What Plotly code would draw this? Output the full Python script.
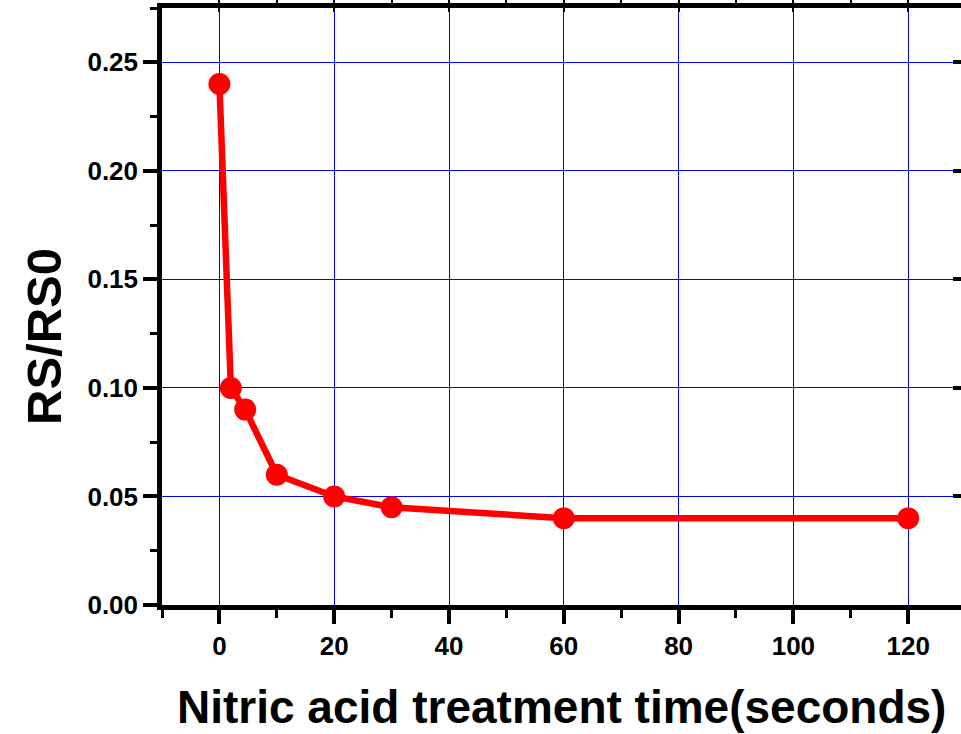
import plotly.graph_objects as go

time_s = [0, 2, 4.5, 10, 20, 30, 60, 120]
rs_ratio = [0.24, 0.10, 0.09, 0.06, 0.05, 0.045, 0.04, 0.04]

x_title = "Nitric acid treatment time(seconds)"
y_title = "RS/RS0"

W, H = 961, 734
L, R, T, B = 162, 0, 8, 129
FONT = "Liberation Sans, Arial, sans-serif"

fig = go.Figure()
fig.add_trace(go.Scatter(
    x=time_s, y=rs_ratio, mode="lines+markers",
    line=dict(color="#ff0000", width=6.5),
    marker=dict(color="#ff0000", size=22),
    showlegend=False, hoverinfo="skip",
))
# invisible helper traces so overlay axes are drawn
fig.add_trace(go.Scatter(x=[None], y=[None], xaxis="x2", yaxis="y", showlegend=False))
fig.add_trace(go.Scatter(x=[None], y=[None], xaxis="x", yaxis="y2", showlegend=False))

xr = [-10, 129.2]
yr = [0, 0.275]
tickfont = dict(family=FONT, size=26, color="black", weight="bold")

fig.update_layout(
    width=W, height=H,
    margin=dict(l=L, r=R, t=T, b=B, pad=0),
    paper_bgcolor="white", plot_bgcolor="white",
    xaxis=dict(
        range=xr, dtick=20, tick0=0,
        showline=True, linewidth=4.5, linecolor="black",
        ticks="outside", ticklen=14, tickwidth=3.5, tickcolor="black",
        minor=dict(dtick=10, tick0=0, ticklen=8, tickwidth=3, tickcolor="black", showgrid=False),
        showgrid=True, gridcolor="#0000ff", gridwidth=1,
        zeroline=False, tickfont=tickfont,
    ),
    xaxis2=dict(
        range=xr, overlaying="x", side="top", dtick=20, tick0=0,
        showline=True, linewidth=4.5, linecolor="black",
        ticks="inside", ticklen=4, tickwidth=2, tickcolor="black",
        minor=dict(dtick=10, tick0=0, ticklen=3, tickwidth=2, tickcolor="black", showgrid=False),
        showgrid=False, zeroline=False, showticklabels=False,
    ),
    yaxis=dict(
        range=yr, dtick=0.05, tick0=0, tickformat=".2f",
        showline=True, linewidth=4.5, linecolor="black",
        ticks="outside", ticklen=14, tickwidth=3.5, tickcolor="black",
        minor=dict(dtick=0.025, tick0=0, ticklen=7, tickwidth=3, tickcolor="black", showgrid=False),
        showgrid=True, gridcolor="#0000ff", gridwidth=1,
        zeroline=False, tickfont=tickfont,
    ),
    yaxis2=dict(
        range=yr, overlaying="y", side="right", dtick=0.05, tick0=0,
        showline=False,
        ticks="inside", ticklen=8, tickwidth=3.5, tickcolor="black",
        minor=dict(dtick=0.025, tick0=0, ticklen=3, tickwidth=3, tickcolor="black", showgrid=False),
        showgrid=False, zeroline=False, showticklabels=False,
    ),
)

pw = W - L - R
ph = H - T - B
fig.add_annotation(
    text=x_title, xref="paper", yref="paper",
    x=(561 - L) / pw, y=(H - B - 707) / ph,
    showarrow=False, xanchor="center", yanchor="middle",
    font=dict(family=FONT, size=46, color="black", weight="bold"),
)
fig.add_annotation(
    text=y_title, xref="paper", yref="paper",
    x=(44 - L) / pw, y=(H - B - 337) / ph,
    showarrow=False, xanchor="center", yanchor="middle", textangle=-90,
    font=dict(family=FONT, size=49, color="black", weight="bold"),
)

fig.write_html("out.html")
